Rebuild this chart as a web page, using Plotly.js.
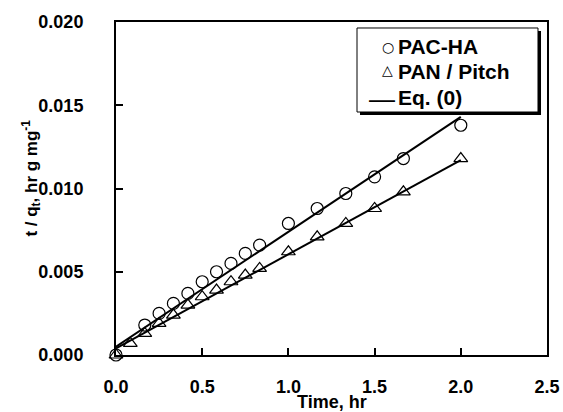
<!DOCTYPE html>
<html>
<head>
<meta charset="utf-8">
<script src="https://cdn.plot.ly/plotly-3.0.1.min.js"></script>
<style>html,body{margin:0;padding:0;background:#fff;}#chart{width:563px;height:412px;}</style>
</head>
<body>
<div id="chart"></div>
<script>
// Data
const tPAC = [0, 0.167, 0.25, 0.333, 0.417, 0.5, 0.583, 0.667, 0.75, 0.833, 1.0, 1.167, 1.333, 1.5, 1.667, 2.0];
const qPAC = [0.0000, 0.0018, 0.0025, 0.0031, 0.0037, 0.0044, 0.0050, 0.0055, 0.0061, 0.0066, 0.0079, 0.0088, 0.0097, 0.0107, 0.0118, 0.0138];
const tPAN = [0, 0.083, 0.167, 0.25, 0.333, 0.417, 0.5, 0.583, 0.667, 0.75, 0.833, 1.0, 1.167, 1.333, 1.5, 1.667, 2.0];
const qPAN = [0.0000, 0.0007, 0.0013, 0.0019, 0.0024, 0.0030, 0.0035, 0.0039, 0.0044, 0.0048, 0.0052, 0.0062, 0.0071, 0.0079, 0.0088, 0.0098, 0.0118];
const tFit = [0, 2.0];
const fitPAC = [0.0005, 0.0143];
const fitPAN = [0.0004, 0.0117];
const names = ['PAC-HA', 'PAN / Pitch', 'Eq. (0)'];
const legendKeys = ['\u25CB', '\u25B3', '\u2014'];
const xTicks = [0, 0.5, 1.0, 1.5, 2.0, 2.5];
const xTickText = ['0.0', '0.5', '1.0', '1.5', '2.0', '2.5'];
const yTicks = [0, 0.005, 0.010, 0.015, 0.020];
const yTickText = ['0.000', '0.005', '0.010', '0.015', '0.020'];

const FONT = 'Arial, "Liberation Sans", sans-serif';
const b = s => '<b>' + s + '</b>';

const traces = [
  {x: tPAC, y: qPAC, mode: 'markers', name: names[0], cliponaxis: false,
   marker: {symbol: 'circle-open', size: 12, color: '#000', line: {width: 1.2, color: '#000'}}},
  {x: tPAN, y: qPAN, mode: 'markers', name: names[1], cliponaxis: false,
   marker: {symbol: 'triangle-up-open', size: 12, color: '#000', line: {width: 1.2, color: '#000'}}},
  {x: tFit, y: fitPAC, mode: 'lines', name: names[2], line: {color: '#000', width: 2}},
  {x: tFit, y: fitPAN, mode: 'lines', name: names[2], line: {color: '#000', width: 2}}
];

// Legend drawn as a boxed text block (paper coordinates)
const rowY = [0.9258, 0.8519, 0.7733];
const legendAnn = [];
names.forEach((n, i) => {
  legendAnn.push({text: b(n), xref: 'paper', yref: 'paper', x: 0.6497, y: rowY[i],
    xanchor: 'left', yanchor: 'middle', showarrow: false, font: {family: FONT, size: 21, color: '#000'}});
});
legendAnn.push({text: legendKeys[0], xref: 'paper', yref: 'paper', x: 0.630, y: rowY[0], xanchor: 'center', yanchor: 'middle',
  showarrow: false, font: {family: '"DejaVu Sans", sans-serif', size: 14, color: '#000'}});
legendAnn.push({text: legendKeys[1], xref: 'paper', yref: 'paper', x: 0.630, y: rowY[1] + 0.004, xanchor: 'center', yanchor: 'middle',
  showarrow: false, font: {family: '"DejaVu Sans", sans-serif', size: 14, color: '#000'}});
legendAnn.push({text: legendKeys[2], xref: 'paper', yref: 'paper', x: 0.6172, y: rowY[2] - 0.004, xanchor: 'center', yanchor: 'middle',
  showarrow: false, font: {family: FONT, size: 26, color: '#000'}});

const layout = {
  width: 563, height: 412,
  margin: {l: 116, r: 16, t: 22, b: 57, pad: 0},
  paper_bgcolor: '#fff', plot_bgcolor: '#fff',
  font: {family: FONT, color: '#000', size: 18},
  showlegend: false,
  xaxis: {
    range: [0, 2.5], tickvals: xTicks, ticktext: xTickText.map(b),
    ticks: 'inside', ticklen: 7, tickwidth: 2, tickcolor: '#000',
    showline: true, linewidth: 2, linecolor: '#000', mirror: true,
    showgrid: false, zeroline: false, ticklabelstandoff: 14,
    tickfont: {family: FONT, size: 18}
  },
  yaxis: {
    range: [0, 0.020], tickvals: yTicks, ticktext: yTickText.map(b),
    ticks: 'inside', ticklen: 7, tickwidth: 2, tickcolor: '#000',
    showline: true, linewidth: 2, linecolor: '#000', mirror: true,
    showgrid: false, zeroline: false, ticklabelstandoff: 27,
    tickfont: {family: FONT, size: 18}
  },
  shapes: [
    {type: 'rect', xref: 'paper', yref: 'paper', x0: 0.5661, x1: 0.9861, y0: 0.7207, y1: 0.973,
     fillcolor: '#000', line: {width: 0}, layer: 'above'},
    {type: 'rect', xref: 'paper', yref: 'paper', x0: 0.5592, x1: 0.9791, y0: 0.7297, y1: 0.982,
     fillcolor: '#fff', line: {width: 1, color: '#000'}, layer: 'above'}
  ],
  annotations: [
    {text: b('Time, hr'), xref: 'paper', yref: 'paper', x: 0.5, y: -0.141, xanchor: 'center', yanchor: 'middle',
     showarrow: false, font: {family: FONT, size: 18}},
    {text: b('t / q<sub>t</sub>, hr g mg<sup>-1</sup>'), xref: 'paper', yref: 'paper', x: -0.197, y: 0.53,
     xanchor: 'center', yanchor: 'middle', textangle: -90, showarrow: false,
     font: {family: FONT, size: 17}}
  ].concat(legendAnn)
};

Plotly.newPlot('chart', traces, layout, {staticPlot: true, displayModeBar: false});
</script>
</body>
</html>
